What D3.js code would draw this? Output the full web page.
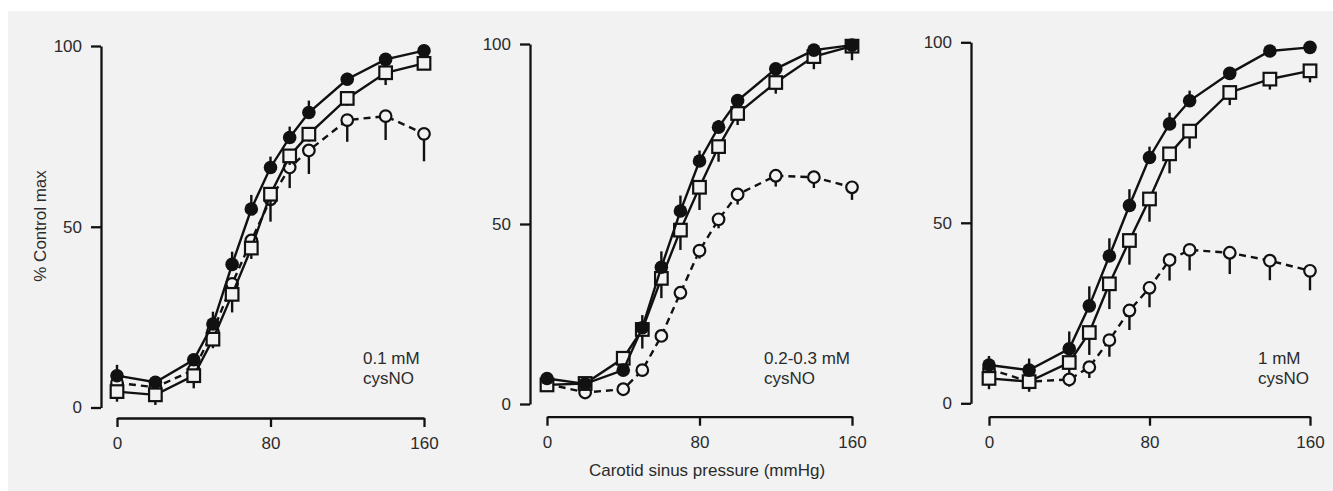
<!DOCTYPE html>
<html>
<head>
<meta charset="utf-8">
<script src="https://cdn.jsdelivr.net/npm/d3@7"></script>
<style>
  html, body { margin: 0; padding: 0; background: #ffffff; }
  svg { display: block; }
  text { font-family: "Liberation Sans", Arial, sans-serif; fill: #2b2b2b; }
</style>
</head>
<body>
<svg id="chart" width="1333" height="491"></svg>
<script>
// ---------- data ----------
const pressure = [0, 20, 40, 50, 60, 70, 80, 90, 100, 120, 140, 160];
const xTicks = [0, 80, 160];
const yTicks = [0, 50, 100];
const panelLabels = [["0.1 mM", "cysNO"], ["0.2-0.3 mM", "cysNO"], ["1 mM", "cysNO"]];

// panel 1 (0.1 mM)
const p1Filled = [8.8, 7.0, 13.2, 23.1, 39.6, 54.9, 66.4, 74.7, 81.6, 90.8, 96.3, 98.7];
const p1FilledErr = [3, 1.5, 1.5, 3.4, 3.5, 3.9, 3, 3, 3.3, 1.8, 1.5, 1.2];
const p1Square = [4.4, 3.5, 8.8, 18.9, 31.3, 44.1, 59.0, 69.6, 75.6, 85.5, 92.6, 95.2];
const p1SquareErr = [2.8, 2.8, 3.5, 2.5, 5, 3, 3, 2.5, 2, 2, 3.4, 1.4];
const p1Open = [6.8, 5.6, 10.4, 21.0, 34.2, 46.2, 57.6, 66.4, 71.1, 79.5, 80.6, 75.7];
const p1OpenErr = [2, 2, 2.5, 3.5, 3, 3.5, 6.2, 5.7, 6.5, 6, 6.6, 7.6];

// panel 2 (0.2-0.3 mM)
const p2Filled = [7.1, 5.6, 9.4, 21.2, 38.0, 53.6, 67.5, 76.9, 84.3, 93.1, 98.3, 99.7];
const p2FilledErr = [1.5, 1.5, 1.5, 3.5, 4.4, 4.3, 2.9, 2, 1.5, 1.5, 1.5, 1.5];
const p2Square = [5.3, 5.7, 12.7, 20.7, 34.9, 48.3, 60.2, 71.5, 80.7, 89.3, 96.5, 99.4];
const p2SquareErr = [1.5, 1.5, 1.5, 5.3, 5.5, 5.5, 6.3, 4.2, 3.2, 3.1, 3.5, 3.9];
const p2Open = [5.6, 3.2, 4.1, 9.4, 18.9, 30.9, 42.6, 51.3, 58.2, 63.4, 63.0, 60.2];
const p2OpenErr = [1.5, 1.5, 1.5, 1.5, 1.5, 1.8, 2.2, 2.5, 2.8, 3, 3, 3.5];

// panel 3 (1 mM)
const p3Filled = [10.6, 9.2, 15.1, 27.0, 40.8, 54.8, 68.1, 77.4, 83.8, 91.4, 97.6, 98.6];
const p3FilledErr = [2.5, 3.2, 4.8, 5.4, 4.9, 4.5, 3, 3.1, 2.8, 1.2, 1.2, 1.2];
const p3Square = [6.9, 6.0, 11.3, 19.6, 33.1, 45.1, 56.6, 69.1, 75.4, 86.1, 89.8, 92.1];
const p3SquareErr = [3, 2.8, 3, 6.2, 7, 6.7, 6.3, 5.4, 4.8, 3.5, 2.9, 3.2];
const p3Open = [9.5, 6.0, 6.6, 10.0, 17.5, 25.7, 32.0, 39.7, 42.5, 41.7, 39.5, 36.7];
const p3OpenErr = [2, 2.3, 2, 3, 4.6, 5.4, 5.4, 5.7, 5.7, 5.9, 5.4, 5.4];

const xLabel = "Carotid sinus pressure (mmHg)";
const yLabel = "% Control max";

// ---------- layout ----------
const bg = "#f2f2f2";
const ink = "#111";
const svg = d3.select("#chart");
svg.append("rect").attr("x", 0).attr("y", 0).attr("width", 1333).attr("height", 491).attr("fill", "#ffffff");
svg.append("rect").attr("x", 8).attr("y", 11).attr("width", 1325).attr("height", 480).attr("fill", bg);

const panels = [
  { x0: 117, x1: 424, yTop: 46, yBot: 407.5, yAxisX: 101, xAxisY: 418, label: [363, 358],
    filled: p1Filled, filledErr: p1FilledErr, square: p1Square, squareErr: p1SquareErr, open: p1Open, openErr: p1OpenErr },
  { x0: 547, x1: 852, yTop: 44, yBot: 404, yAxisX: 530, xAxisY: 416.7, label: [764, 358],
    filled: p2Filled, filledErr: p2FilledErr, square: p2Square, squareErr: p2SquareErr, open: p2Open, openErr: p2OpenErr },
  { x0: 989, x1: 1310, yTop: 42.3, yBot: 403.3, yAxisX: 971, xAxisY: 416.7, label: [1258, 358],
    filled: p3Filled, filledErr: p3FilledErr, square: p3Square, squareErr: p3SquareErr, open: p3Open, openErr: p3OpenErr }
];

const fontSize = 17;

panels.forEach((p, i) => {
  const x = d3.scaleLinear().domain([0, 160]).range([p.x0, p.x1]);
  const y = d3.scaleLinear().domain([0, 100]).range([p.yBot, p.yTop]);
  const g = svg.append("g");

  // axes
  const yAxis = d3.axisLeft(y).tickValues(yTicks).tickSize(10).tickSizeOuter(0).tickPadding(9);
  const ya = g.append("g").attr("transform", `translate(${p.yAxisX},0)`).call(yAxis);
  const xAxis = d3.axisBottom(x).tickValues(xTicks).tickSize(9).tickSizeOuter(0).tickPadding(10);
  const xa = g.append("g").attr("transform", `translate(0,${p.xAxisY})`).call(xAxis);
  [ya, xa].forEach(a => {
    a.select(".domain").attr("stroke", ink).attr("stroke-width", 2.3);
    a.selectAll(".tick line").attr("stroke", ink).attr("stroke-width", 2.3);
    a.selectAll(".tick text").attr("font-size", fontSize).attr("fill", "#2b2b2b")
      .attr("font-family", '"Liberation Sans", Arial, sans-serif');
  });

  const pts = key => pressure.map((v, j) => ({ px: v, val: p[key][j], err: p[key + "Err"][j] }));
  const line = d3.line().x(d => x(d.px)).y(d => y(d.val));

  // open circles (dashed)
  const open = pts("open");
  g.append("path").datum(open).attr("d", line).attr("fill", "none")
    .attr("stroke", ink).attr("stroke-width", 2.4).attr("stroke-dasharray", "7,5");
  g.selectAll(".eo").data(open).enter().append("line")
    .attr("x1", d => x(d.px)).attr("x2", d => x(d.px))
    .attr("y1", d => y(d.val)).attr("y2", d => y(d.val - d.err))
    .attr("stroke", ink).attr("stroke-width", 2.4);
  g.selectAll(".mo").data(open).enter().append("circle")
    .attr("cx", d => x(d.px)).attr("cy", d => y(d.val)).attr("r", 5.8)
    .attr("fill", bg).attr("stroke", ink).attr("stroke-width", 2.2);

  // squares
  const sq = pts("square");
  g.append("path").datum(sq).attr("d", line).attr("fill", "none")
    .attr("stroke", ink).attr("stroke-width", 2.4);
  g.selectAll(".es").data(sq).enter().append("line")
    .attr("x1", d => x(d.px)).attr("x2", d => x(d.px))
    .attr("y1", d => y(d.val)).attr("y2", d => y(d.val - d.err))
    .attr("stroke", ink).attr("stroke-width", 2.4);
  g.selectAll(".ms").data(sq).enter().append("rect")
    .attr("x", d => x(d.px) - 6.3).attr("y", d => y(d.val) - 6.3).attr("width", 12.6).attr("height", 12.6)
    .attr("fill", bg).attr("stroke", ink).attr("stroke-width", 2.2);

  // filled circles
  const fc = pts("filled");
  g.append("path").datum(fc).attr("d", line).attr("fill", "none")
    .attr("stroke", ink).attr("stroke-width", 2.4);
  g.selectAll(".ef").data(fc).enter().append("line")
    .attr("x1", d => x(d.px)).attr("x2", d => x(d.px))
    .attr("y1", d => y(d.val)).attr("y2", d => y(d.val + d.err))
    .attr("stroke", ink).attr("stroke-width", 2.4);
  g.selectAll(".mf").data(fc).enter().append("circle")
    .attr("cx", d => x(d.px)).attr("cy", d => y(d.val)).attr("r", 6.8)
    .attr("fill", ink);

  // panel label
  const t = g.append("text").attr("x", p.label[0]).attr("y", p.label[1] + 6).attr("font-size", fontSize);
  t.append("tspan").attr("x", p.label[0]).text(panelLabels[i][0]);
  t.append("tspan").attr("x", p.label[0]).attr("dy", 20).text(panelLabels[i][1]);
});

svg.append("text").attr("x", 707).attr("y", 476).attr("text-anchor", "middle")
  .attr("font-size", fontSize).text(xLabel);
svg.append("text").attr("transform", "translate(46,226) rotate(-90)").attr("text-anchor", "middle")
  .attr("font-size", fontSize).text(yLabel);
</script>
</body>
</html>
